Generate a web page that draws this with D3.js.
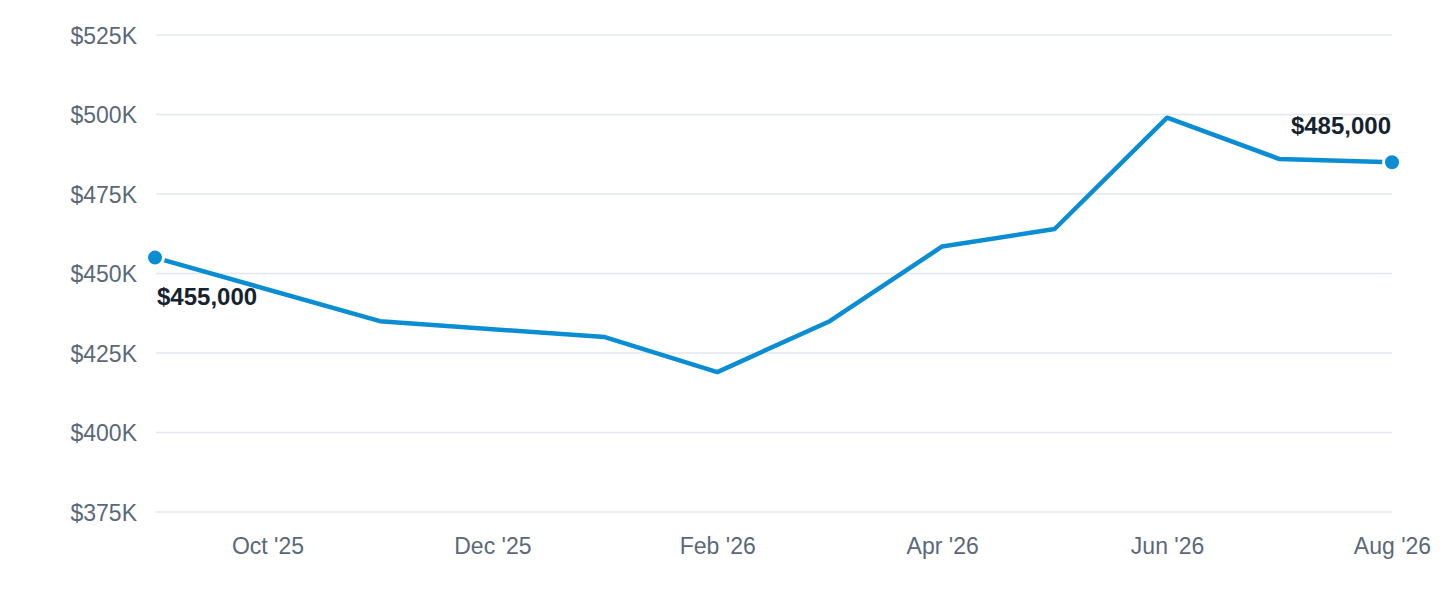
<!DOCTYPE html>
<html>
<head>
<meta charset="utf-8">
<script src="https://cdn.jsdelivr.net/npm/d3@7"></script>
<style>
  body { margin: 0; background: #fff; }
  svg text { font-family: "Liberation Sans", Arial, Helvetica, sans-serif; }
  .yaxis text, .xaxis text { fill: #5a6978; font-size: 23px; }
  .yaxis .domain, .xaxis .domain, .xaxis line, .yaxis line { display: none; }
</style>
</head>
<body>
<script>
// Size and margins
var w = 1440;
var h = 600;
var padLeft = 156, padRight = 1392, padTop = 35, padBottom = 512;

// Months on the axis (one slot per month)
var months = ["Sep '25", "Oct '25", "Nov '25", "Dec '25", "Jan '26", "Feb '26",
              "Mar '26", "Apr '26", "May '26", "Jun '26", "Jul '26", "Aug '26"];
var tickMonths = ["Oct '25", "Dec '25", "Feb '26", "Apr '26", "Jun '26", "Aug '26"];
var yTicks = [375000, 400000, 425000, 450000, 475000, 500000, 525000];

// Median price per month
var pointMonths = ["Sep '25", "Nov '25", "Jan '26", "Feb '26", "Mar '26",
                   "Apr '26", "May '26", "Jun '26", "Jul '26", "Aug '26"];
var prices = [455000, 435000, 430000, 419000, 435000,
              458500, 464000, 499000, 486000, 485000];

var data = pointMonths.map(function(m, i) { return {month: m, price: prices[i]}; });

var svg = d3.select("body")
            .append("svg")
            .attr("width", w)
            .attr("height", h);

/***Scales***/
var xScale = d3.scalePoint()
               .domain(months)
               .range([padLeft - 1, padRight]);
var yScale = d3.scaleLinear()
               .domain([375000, 525000])
               .range([padBottom, padTop]);

/***Grid lines***/
svg.append("g")
   .selectAll("line")
   .data(yTicks)
   .enter()
   .append("line")
   .attr("x1", padLeft)
   .attr("x2", padRight)
   .attr("y1", function(d) { return yScale(d); })
   .attr("y2", function(d) { return yScale(d); })
   .attr("stroke", "#e3e7ed")
   .attr("stroke-width", 1.5);

/***Axes***/
var yAxis = d3.axisLeft(yScale)
              .tickValues(yTicks)
              .tickSize(0)
              .tickPadding(0)
              .tickFormat(function(d) { return "$" + (d / 1000) + "K"; });
svg.append("g")
   .attr("class", "yaxis")
   .attr("transform", "translate(137,0)")
   .call(yAxis);

var xAxis = d3.axisBottom(xScale)
              .tickValues(tickMonths)
              .tickSize(0)
              .tickPadding(0);
svg.append("g")
   .attr("class", "xaxis")
   .attr("transform", "translate(0,538)")
   .call(xAxis);

/***Line***/
var line = d3.line()
             .x(function(d) { return xScale(d.month); })
             .y(function(d) { return yScale(d.price); });

svg.append("path")
   .datum(data)
   .attr("d", line)
   .attr("fill", "none")
   .attr("stroke", "#0a8dd3")
   .attr("stroke-width", 4.5)
   .attr("stroke-linejoin", "round");

/***End points***/
var ends = [data[0], data[data.length - 1]];
svg.selectAll(".dot")
   .data(ends)
   .enter()
   .append("circle")
   .attr("class", "dot")
   .attr("cx", function(d) { return xScale(d.month); })
   .attr("cy", function(d) { return yScale(d.price); })
   .attr("r", 8.5)
   .attr("fill", "#0a8dd3")
   .attr("stroke", "#fff")
   .attr("stroke-width", 3);

var fmt = d3.format("$,");
svg.append("text")
   .attr("x", xScale(ends[0].month) + 2)
   .attr("y", yScale(ends[0].price) + 47)
   .attr("font-size", 24)
   .attr("font-weight", "bold")
   .attr("fill", "#15232f")
   .text(fmt(ends[0].price));
svg.append("text")
   .attr("x", xScale(ends[1].month) - 1)
   .attr("y", yScale(ends[1].price) - 28)
   .attr("text-anchor", "end")
   .attr("font-size", 24)
   .attr("font-weight", "bold")
   .attr("fill", "#15232f")
   .text(fmt(ends[1].price));

// centre the y labels vertically on the grid line
svg.selectAll(".yaxis text").attr("dy", "0.35em");
</script>
</body>
</html>
